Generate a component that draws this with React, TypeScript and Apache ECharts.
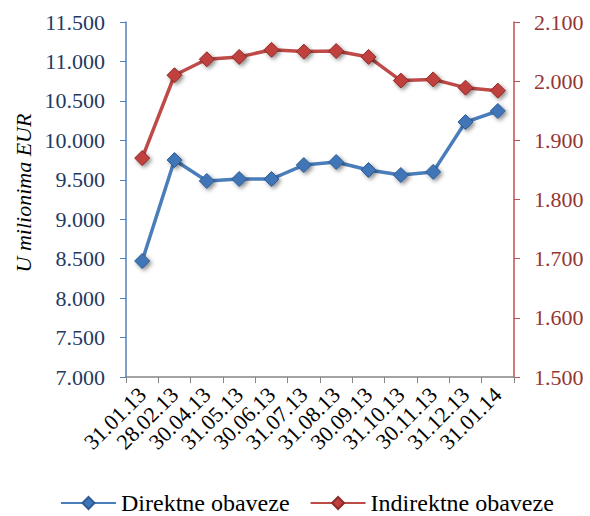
import React, { useEffect, useRef } from "react";
import * as echarts from "echarts";

const categories = ["31.01.13", "28.02.13", "30.04.13", "31.05.13", "30.06.13", "31.07.13", "31.08.13", "30.09.13", "31.10.13", "30.11.13", "31.12.13", "31.01.14"];
const direktne = [8470, 9750, 9485, 9510, 9510, 9687, 9725, 9624, 9560, 9600, 10232, 10372];
const indirektne = [1870, 2010, 2037, 2041, 2053, 2050, 2051, 2041, 2001, 2003, 1989, 1984];
const yAxisTitle = "U milionima EUR";

const fmt = (v: number) => {
  const s = Math.round(v).toString();
  return s.replace(/\B(?=(\d{3})+(?!\d))/g, ".");
};

export default function App() {
  const ref = useRef<HTMLDivElement>(null);
  useEffect(() => {
    if (!ref.current) return;
    const chart = echarts.init(ref.current, null, { renderer: "svg" });
    const font = "Liberation Serif";
    const shadow = { shadowBlur: 4, shadowColor: "rgba(0,0,0,0.45)", shadowOffsetX: 2, shadowOffsetY: 2 };
    chart.setOption({
      animation: false,
      textStyle: { fontFamily: font },
      grid: { left: 126, right: 76, top: 22, bottom: 139 },
      graphic: [
        {
          type: "text",
          x: 23,
          y: 193,
          rotation: Math.PI / 2,
          style: {
            text: yAxisTitle,
            fontFamily: font,
            fontSize: 22,
            fontStyle: "italic",
            fill: "#000",
            textAlign: "center",
            textVerticalAlign: "middle",
          },
        },
      ],
      legend: {
        top: 486,
        left: 55,
        itemWidth: 55,
        itemHeight: 15,
        itemGap: 20,
        textStyle: { fontFamily: font, fontSize: 24, color: "#000" },
        data: ["Direktne obaveze", "Indirektne obaveze"],
      },
      xAxis: {
        type: "category",
        data: categories,
        boundaryGap: true,
        axisLine: { lineStyle: { color: "#868686", width: 1.5 } },
        axisTick: { show: true, length: 6, lineStyle: { color: "#868686" } },
        axisLabel: { interval: 0, rotate: 45, fontFamily: font, fontSize: 22, color: "#000", margin: 14 },
      },
      yAxis: [
        {
          type: "value",
          min: 7000,
          max: 11500,
          interval: 500,
          splitLine: { show: false },
          axisLine: { show: true, lineStyle: { color: "#4F81BD", width: 1.5 } },
          axisTick: { show: true, length: 6, lineStyle: { color: "#4F81BD" } },
          axisLabel: { fontFamily: font, fontSize: 22, color: "#1F3A60", formatter: fmt, margin: 21 },
        },
        {
          type: "value",
          min: 1500,
          max: 2100,
          interval: 100,
          splitLine: { show: false },
          axisLine: { show: true, lineStyle: { color: "#C0504D", width: 1.5 } },
          axisTick: { show: true, length: 6, lineStyle: { color: "#C0504D" } },
          axisLabel: { fontFamily: font, fontSize: 22, color: "#943634", formatter: fmt, margin: 20 },
        },
      ],
      series: [
        {
          name: "Direktne obaveze",
          type: "line",
          yAxisIndex: 0,
          data: direktne,
          symbol: "diamond",
          symbolSize: 15,
          lineStyle: { color: "#4A7EBB", width: 3.5 },
          itemStyle: { color: "#3F76B8", borderColor: "#2E5C94", borderWidth: 1, ...shadow },
        },
        {
          name: "Indirektne obaveze",
          type: "line",
          yAxisIndex: 1,
          data: indirektne,
          symbol: "diamond",
          symbolSize: 15,
          lineStyle: { color: "#BE4B48", width: 3.5 },
          itemStyle: { color: "#C0403D", borderColor: "#8E2B28", borderWidth: 1, ...shadow },
        },
      ],
    });
    return () => chart.dispose();
  }, []);
  return <div ref={ref} style={{ width: 590, height: 516, position: "absolute", left: 0, top: 0 }} />;
}
